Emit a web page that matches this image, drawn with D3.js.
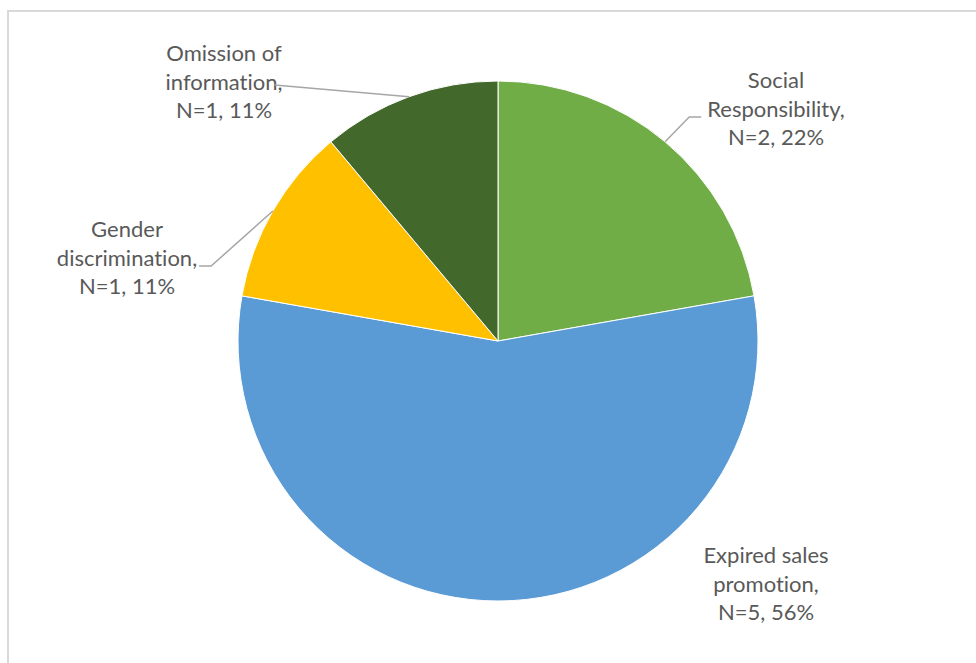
<!DOCTYPE html>
<html>
<head>
<meta charset="utf-8">
<script src="https://cdn.jsdelivr.net/npm/d3@7"></script>
<style>
  html, body { margin: 0; padding: 0; background: #fff; }
  svg { display: block; }
  .lbl { font-family: Lato, "Liberation Sans", sans-serif; font-size: 22px; fill: #595959;
         font-variant-ligatures: none; font-feature-settings: "liga" 0; }
</style>
</head>
<body>
<svg id="chart" width="976" height="663"></svg>
<script>
// Complaint categories, in clockwise order from 12 o'clock
const categories = ["Social Responsibility", "Expired sales promotion", "Gender discrimination", "Omission of information"];
const counts = [2, 5, 1, 1];
const colors = ["#70AD47", "#5B9BD5", "#FFC000", "#43682B"];

// Text lines of each data label (category name wrapped as drawn)
const labelLines = [
  ["Social", "Responsibility,"],
  ["Expired sales", "promotion,"],
  ["Gender", "discrimination,"],
  ["Omission of", "information,"]
];

// Label placement: centre of the middle text line, relative to the pie centre
const labelPos = [
  { x: 278, y: -232, leader: true },
  { x: 268, y: 243, leader: false },
  { x: -371, y: -83, leader: true },
  { x: -274, y: -259, leader: true }
];

const svg = d3.select("#chart");
const W = 976, H = 663;

// chart frame
svg.append("rect")
  .attr("x", 8).attr("y", 11)
  .attr("width", W + 10).attr("height", H + 10)
  .attr("fill", "#fff")
  .attr("stroke", "#d9d9d9").attr("stroke-width", 2);

const cx = 498, cy = 341, R = 260;
const total = d3.sum(counts);
const data = categories.map((c, i) => ({ name: c, n: counts[i], color: colors[i], i }));

const pie = d3.pie().value(d => d.n).sort(null);
const arc = d3.arc().innerRadius(0).outerRadius(R);
const edge = d3.arc().innerRadius(R).outerRadius(R);

const g = svg.append("g").attr("transform", `translate(${cx},${cy})`);
const arcs = pie(data);

g.selectAll("path.slice")
  .data(arcs)
  .enter().append("path")
  .attr("class", "slice")
  .attr("d", arc)
  .attr("fill", d => d.data.color)
  .attr("stroke", "#fff")
  .attr("stroke-width", 1);

const lineH = 28.5;

arcs.forEach((a, k) => {
  const pos = labelPos[k];
  const pct = Math.round(a.data.n / total * 100);
  const lines = labelLines[k].concat([`N=${a.data.n}, ${pct}%`]);
  const top = pos.y - lineH;

  const t = g.append("text").attr("class", "lbl").attr("text-anchor", "middle");
  lines.forEach((s, j) => {
    t.append("tspan").attr("x", pos.x).attr("y", top + j * lineH).attr("dy", "0.35em").text(s);
  });

  if (pos.leader) {
    const p = edge.centroid(a); // point on the rim at the slice mid-angle
    const bb = t.node().getBBox();
    const ly = pos.y + 8; // leader meets the label at the middle line's baseline
    let pts;
    if (p[0] > 0) {
      const xEnd = bb.x - 6;
      pts = [p, [xEnd - 12, ly], [xEnd, ly]];
    } else if (k === 3) {
      pts = [p, [bb.x + bb.width - 8, ly - 5]];
    } else {
      const xEnd = bb.x + bb.width + 2;
      pts = [p, [xEnd + 12, ly], [xEnd, ly]];
    }
    g.append("path")
      .attr("d", d3.line()(pts))
      .attr("fill", "none")
      .attr("stroke", "#a6a6a6")
      .attr("stroke-width", 1.5);
  }
});
</script>
</body>
</html>
